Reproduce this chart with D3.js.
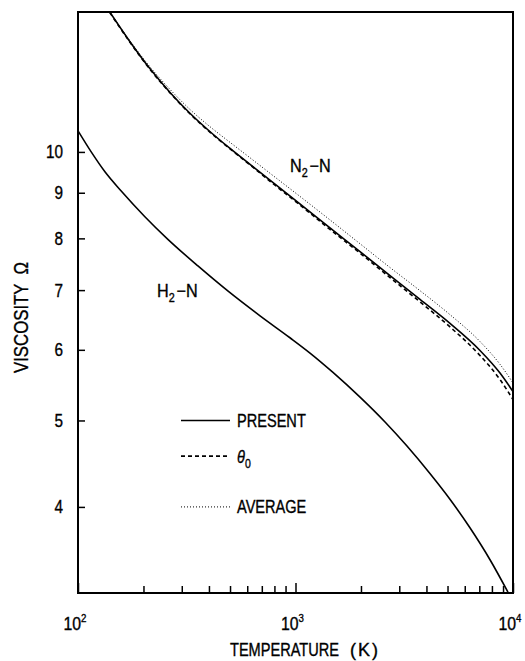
<!DOCTYPE html>
<html><head><meta charset="utf-8">
<script src="https://cdn.jsdelivr.net/npm/d3@7"></script>
<style>
body{margin:0;background:#fff;}
text{font-family:"Liberation Sans",Arial,sans-serif;fill:#000;stroke:#000;stroke-width:0.35px;}
</style></head><body>
<svg id="c" width="525" height="661"></svg>
<script>
// ---- data ----
const xMajorTicks = [100, 1000, 10000];
const xMinorTicks = [200,300,400,500,600,700,800,900,2000,3000,4000,5000,6000,7000,8000,9000];
const xTickExponents = ["2", "3", "4"];
const yTicks = [4, 5, 6, 7, 8, 9, 10];

const n2T        = [140, 173, 214, 265, 327, 405, 500, 618, 805, 1027, 1441, 1980, 2720, 3736, 5133, 7051, 8714, 10000];
const n2Present  = [14.35, 13.30, 12.40, 11.66, 11.05, 10.535, 10.09, 9.683, 9.200, 8.778, 8.218, 7.731, 7.267, 6.834, 6.423, 5.990, 5.651, 5.387];
const n2Theta0   = [14.33, 13.28, 12.38, 11.645, 11.035, 10.52, 10.08, 9.67, 9.176, 8.755, 8.186, 7.701, 7.230, 6.790, 6.365, 5.913, 5.557, 5.277];
const n2Average  = [14.35, 13.33, 12.46, 11.75, 11.16, 10.67, 10.25, 9.85, 9.37, 8.95, 8.39, 7.89, 7.42, 6.99, 6.57, 6.13, 5.78, 5.51];

const h2T        = [100, 115, 133, 158, 203, 259, 356, 490, 687, 943, 1166, 1487, 1980, 2580, 3255, 4150, 5130, 6340, 7840, 9480];
const h2Present  = [10.56, 10.0, 9.50, 9.04, 8.46, 7.98, 7.45, 6.98, 6.55, 6.19, 5.95, 5.66, 5.31, 4.98, 4.68, 4.36, 4.08, 3.79, 3.49, 3.21];

const legendLabels = ["PRESENT", "θ", "AVERAGE"];
const styles = {present: null, theta0: "4,3", average: "1,2"};

// ---- layout ----
const L = 78, T = 12, R = 513, B = 593;
const SX = 0.81; // horizontal condensation of the lettering
const svg = d3.select("#c");
const x = d3.scaleLog().domain([100, 10000]).range([L, R]);
const y = d3.scaleLog().domain([3.203, 14.35]).range([B, T]);

function label(g, px, py, size, anchor, sx, rot) {
  return g.append("text")
    .attr("transform", `translate(${px},${py})${rot ? " rotate(" + rot + ")" : ""} scale(${sx},1)`)
    .attr("text-anchor", anchor || "start").style("font-size", size + "px");
}

svg.append("defs").append("clipPath").attr("id","clip")
  .append("rect").attr("x",L).attr("y",T).attr("width",R-L).attr("height",B-T);

// frame
svg.append("rect").attr("x",L).attr("y",T).attr("width",R-L).attr("height",B-T)
  .attr("fill","none").attr("stroke","#000").attr("stroke-width",2);

// y axis ticks
const ya = svg.append("g").attr("transform",`translate(${L},0)`)
  .call(d3.axisLeft(y).tickValues(yTicks).tickSize(-7).tickFormat(""));
ya.select(".domain").remove();
ya.selectAll(".tick line").attr("stroke","#000").attr("stroke-width",1.5);
yTicks.forEach(v => label(svg, 63, y(v) + 6.5, 18, "end", 0.85).text(d3.format("d")(v)));

// x axis (minor + major inward ticks)
const xa = svg.append("g").attr("transform",`translate(0,${B})`);
xa.append("g").call(d3.axisBottom(x).tickValues(xMinorTicks).tickSize(-7).tickFormat(""))
  .call(g=>{g.select(".domain").remove(); g.selectAll(".tick line").attr("stroke","#000").attr("stroke-width",1.5);});
xa.append("g").call(d3.axisBottom(x).tickValues(xMajorTicks).tickSize(-10).tickFormat(""))
  .call(g=>{g.select(".domain").remove(); g.selectAll(".tick line").attr("stroke","#000").attr("stroke-width",1.5);});
xMajorTicks.forEach((v,i) => {
  const t = label(svg, x(v) - 3, 630, 18, "middle", 0.88);
  t.append("tspan").text("10");
  t.append("tspan").text(xTickExponents[i]).attr("dy",-8).style("font-size","11px");
});

// axis titles
label(svg, 230, 656, 18, "start", SX).text("TEMPERATURE");
label(svg, 350, 656, 18, "start", 1).style("letter-spacing","2px").text("(K)");
label(svg, 28, 373, 20, "start", 0.84, -90).text("VISCOSITY");
label(svg, 28, 262, 20, "end", 0.84, -90).text("Ω");

// curves
const line = d3.line().x(d=>x(d[0])).y(d=>y(d[1])).curve(d3.curveMonotoneX);
const plot = svg.append("g").attr("clip-path","url(#clip)");
const series = [
  {t:n2T, v:n2Average, dash:styles.average, w:1},
  {t:n2T, v:n2Theta0, dash:styles.theta0, w:1.6},
  {t:n2T, v:n2Present, dash:styles.present, w:1.6},
  {t:h2T, v:h2Present, dash:styles.present, w:1.6}
];
plot.selectAll("path").data(series).join("path")
  .attr("d", s=>line(s.t.map((t,i)=>[t,s.v[i]])))
  .attr("fill","none").attr("stroke","#000").attr("stroke-width",s=>s.w)
  .attr("stroke-dasharray",s=>s.dash);

// curve labels
function species(px, py, a) {
  const t = label(svg, px, py, 18, "start", 0.9);
  t.append("tspan").text(a);
  t.append("tspan").text("2").attr("dy",5).style("font-size","12px");
  t.append("tspan").text("−N").attr("dy",-5).attr("dx",2);
}
species(290, 172, "N");
species(157, 297, "H");

// legend
const legY = [y(5), y(4.56), y(4)];
const legDash = [styles.present, styles.theta0, styles.average];
const leg = svg.append("g");
leg.selectAll("line").data(legY).join("line")
  .attr("x1",181).attr("x2",230).attr("y1",d=>d).attr("y2",d=>d)
  .attr("stroke","#000").attr("stroke-width",(d,i)=>i===2?1:1.6)
  .attr("stroke-dasharray",(d,i)=>legDash[i]);
legendLabels.forEach((s,i) => {
  const t = label(leg, 237, legY[i] + 6.5, 18, "start", SX);
  t.append("tspan").text(s).style("font-style", i===1 ? "italic" : null);
  if (i===1) t.append("tspan").text("0").attr("dy",5).style("font-size","13px");
});
</script>
</body></html>
